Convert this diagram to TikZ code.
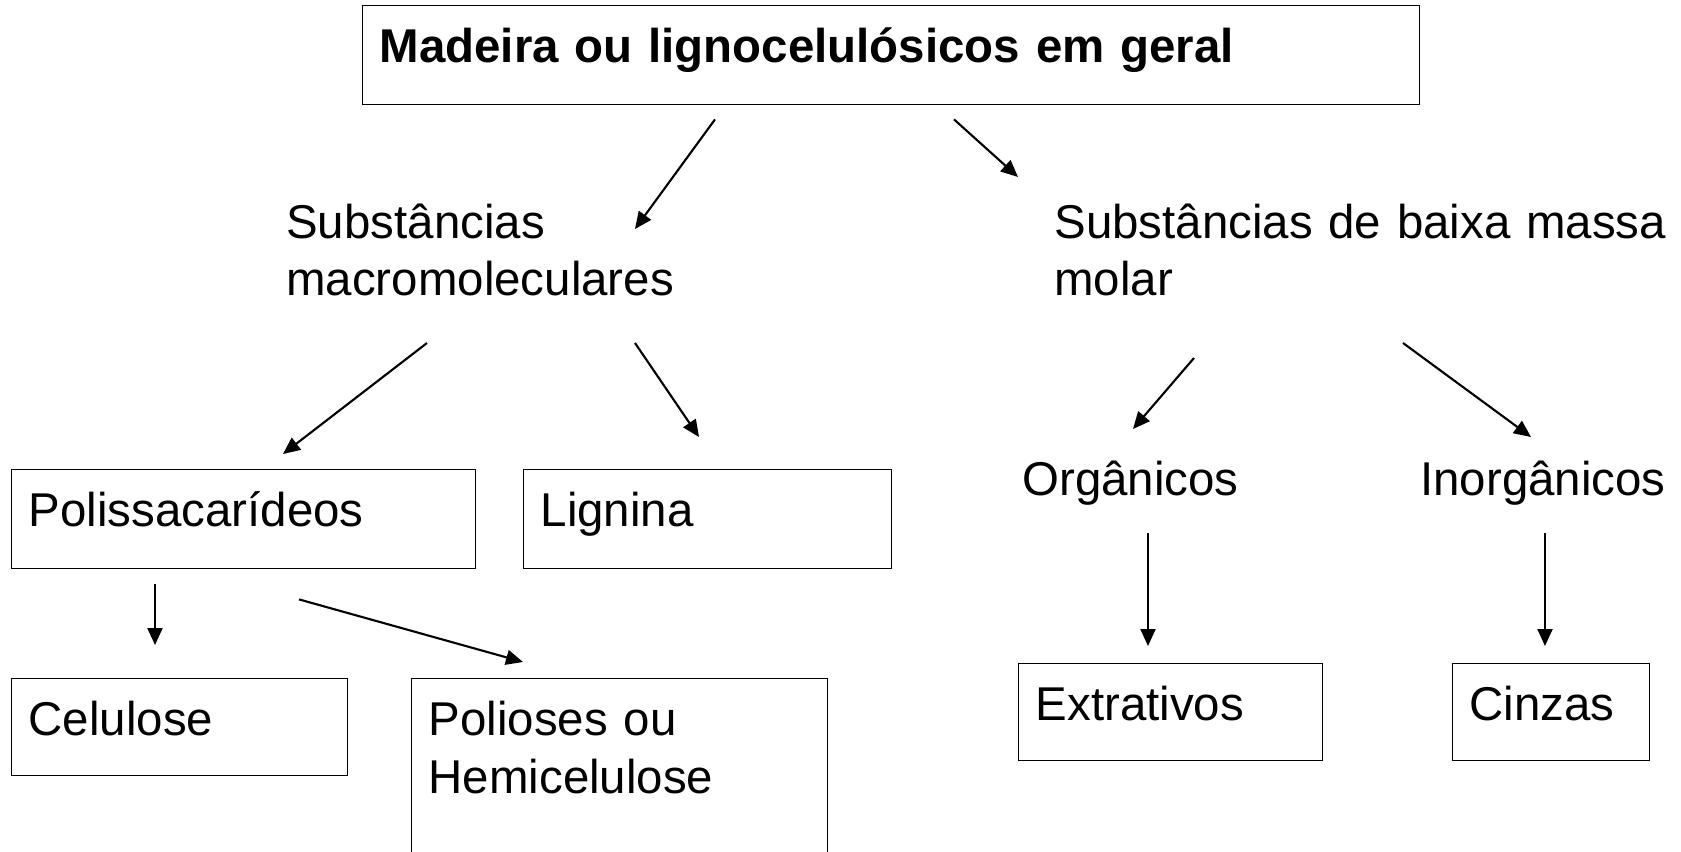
\documentclass[tikz,border=0pt]{standalone}
\usepackage{fontspec}
\setmainfont{Liberation Sans}
\usepackage{tikz}
\usetikzlibrary{arrows.meta,calc}

\begin{document}
\begin{tikzpicture}[x=0.02cm, y=-0.02cm, font=\fontsize{27pt}{33pt}\selectfont]
    % Define styles
    \tikzstyle{box} = [rectangle, draw=black, line width=0.8pt, anchor=north west, inner xsep=0.34cm, inner ysep=0pt, text height=1.14cm, align=left]
    \tikzstyle{freetext} = [anchor=base west, inner sep=0pt, align=left, text width=13cm]
    \tikzstyle{conn} = [-{Triangle[length=0.34cm, width=0.3cm]}, line width=1.2pt]

    \useasboundingbox (0,0) rectangle (1681,852);
    \clip (0,0) rectangle (1681,852);

    % Boxes
    \node[box, text width=20.46cm, text depth=0.84cm] (wood) at (362,5) {\bfseries Madeira ou lignocelulósicos em geral};
    \node[box, text width=8.6cm, text depth=0.84cm] (polis) at (11,469) {Polissacarídeos};
    \node[box, text width=6.68cm, text depth=0.84cm] (lignina) at (523,469) {Lignina};
    \node[box, text width=6.04cm, text depth=0.8cm] (celulose) at (11,678) {Celulose};
    \node[box, text width=7.64cm, text depth=4cm] (polioses) at (411,678) {Polioses ou\\Hemicelulose};
    \node[box, text width=5.4cm, text depth=0.8cm] (extrativos) at (1018,663) {Extrativos};
    \node[box, text width=3.26cm, text depth=0.8cm] (cinzas) at (1452,663) {Cinzas};

    % Free text
    \node[freetext] (macro) at (286,238) {Substâncias\\macromoleculares};
    \node[freetext] (baixa) at (1054,238) {Substâncias de baixa massa\\molar};
    \node[freetext, text width=5cm] (org) at (1022,495) {Orgânicos};
    \node[freetext, text width=5cm] (inorg) at (1420,495) {Inorgânicos};

    % Arrows
    \draw[conn] ($(wood.south west)+(353,14)$) -- ($(macro.base west)+(349,-9)$);
    \draw[conn] ($(wood.south west)+(592,14)$) -- ($(baixa.base west)+(-36,-61)$);
    \draw[conn] ($(macro.base west)+(141,105)$) -- ($(polis.north west)+(272,-15)$);
    \draw[conn] ($(macro.base west)+(349,105)$) -- ($(lignina.north west)+(176,-32)$);
    \draw[conn] ($(baixa.base west)+(140,120)$) -- ($(org.base west)+(111,-66)$);
    \draw[conn] ($(baixa.base west)+(349,105)$) -- ($(inorg.base west)+(111,-58)$);
    \draw[conn] ($(polis.south west)+(144,15)$) -- ($(celulose.north west)+(144,-33)$);
    \draw[conn] ($(polis.south west)+(288,30)$) -- ($(polioses.north west)+(112,-16)$);
    \draw[conn] ($(org.base west)+(126,38)$) -- ($(extrativos.north west)+(130,-17)$);
    \draw[conn] ($(inorg.base west)+(125,38)$) -- ($(cinzas.north west)+(93,-17)$);
\end{tikzpicture}
\end{document}
